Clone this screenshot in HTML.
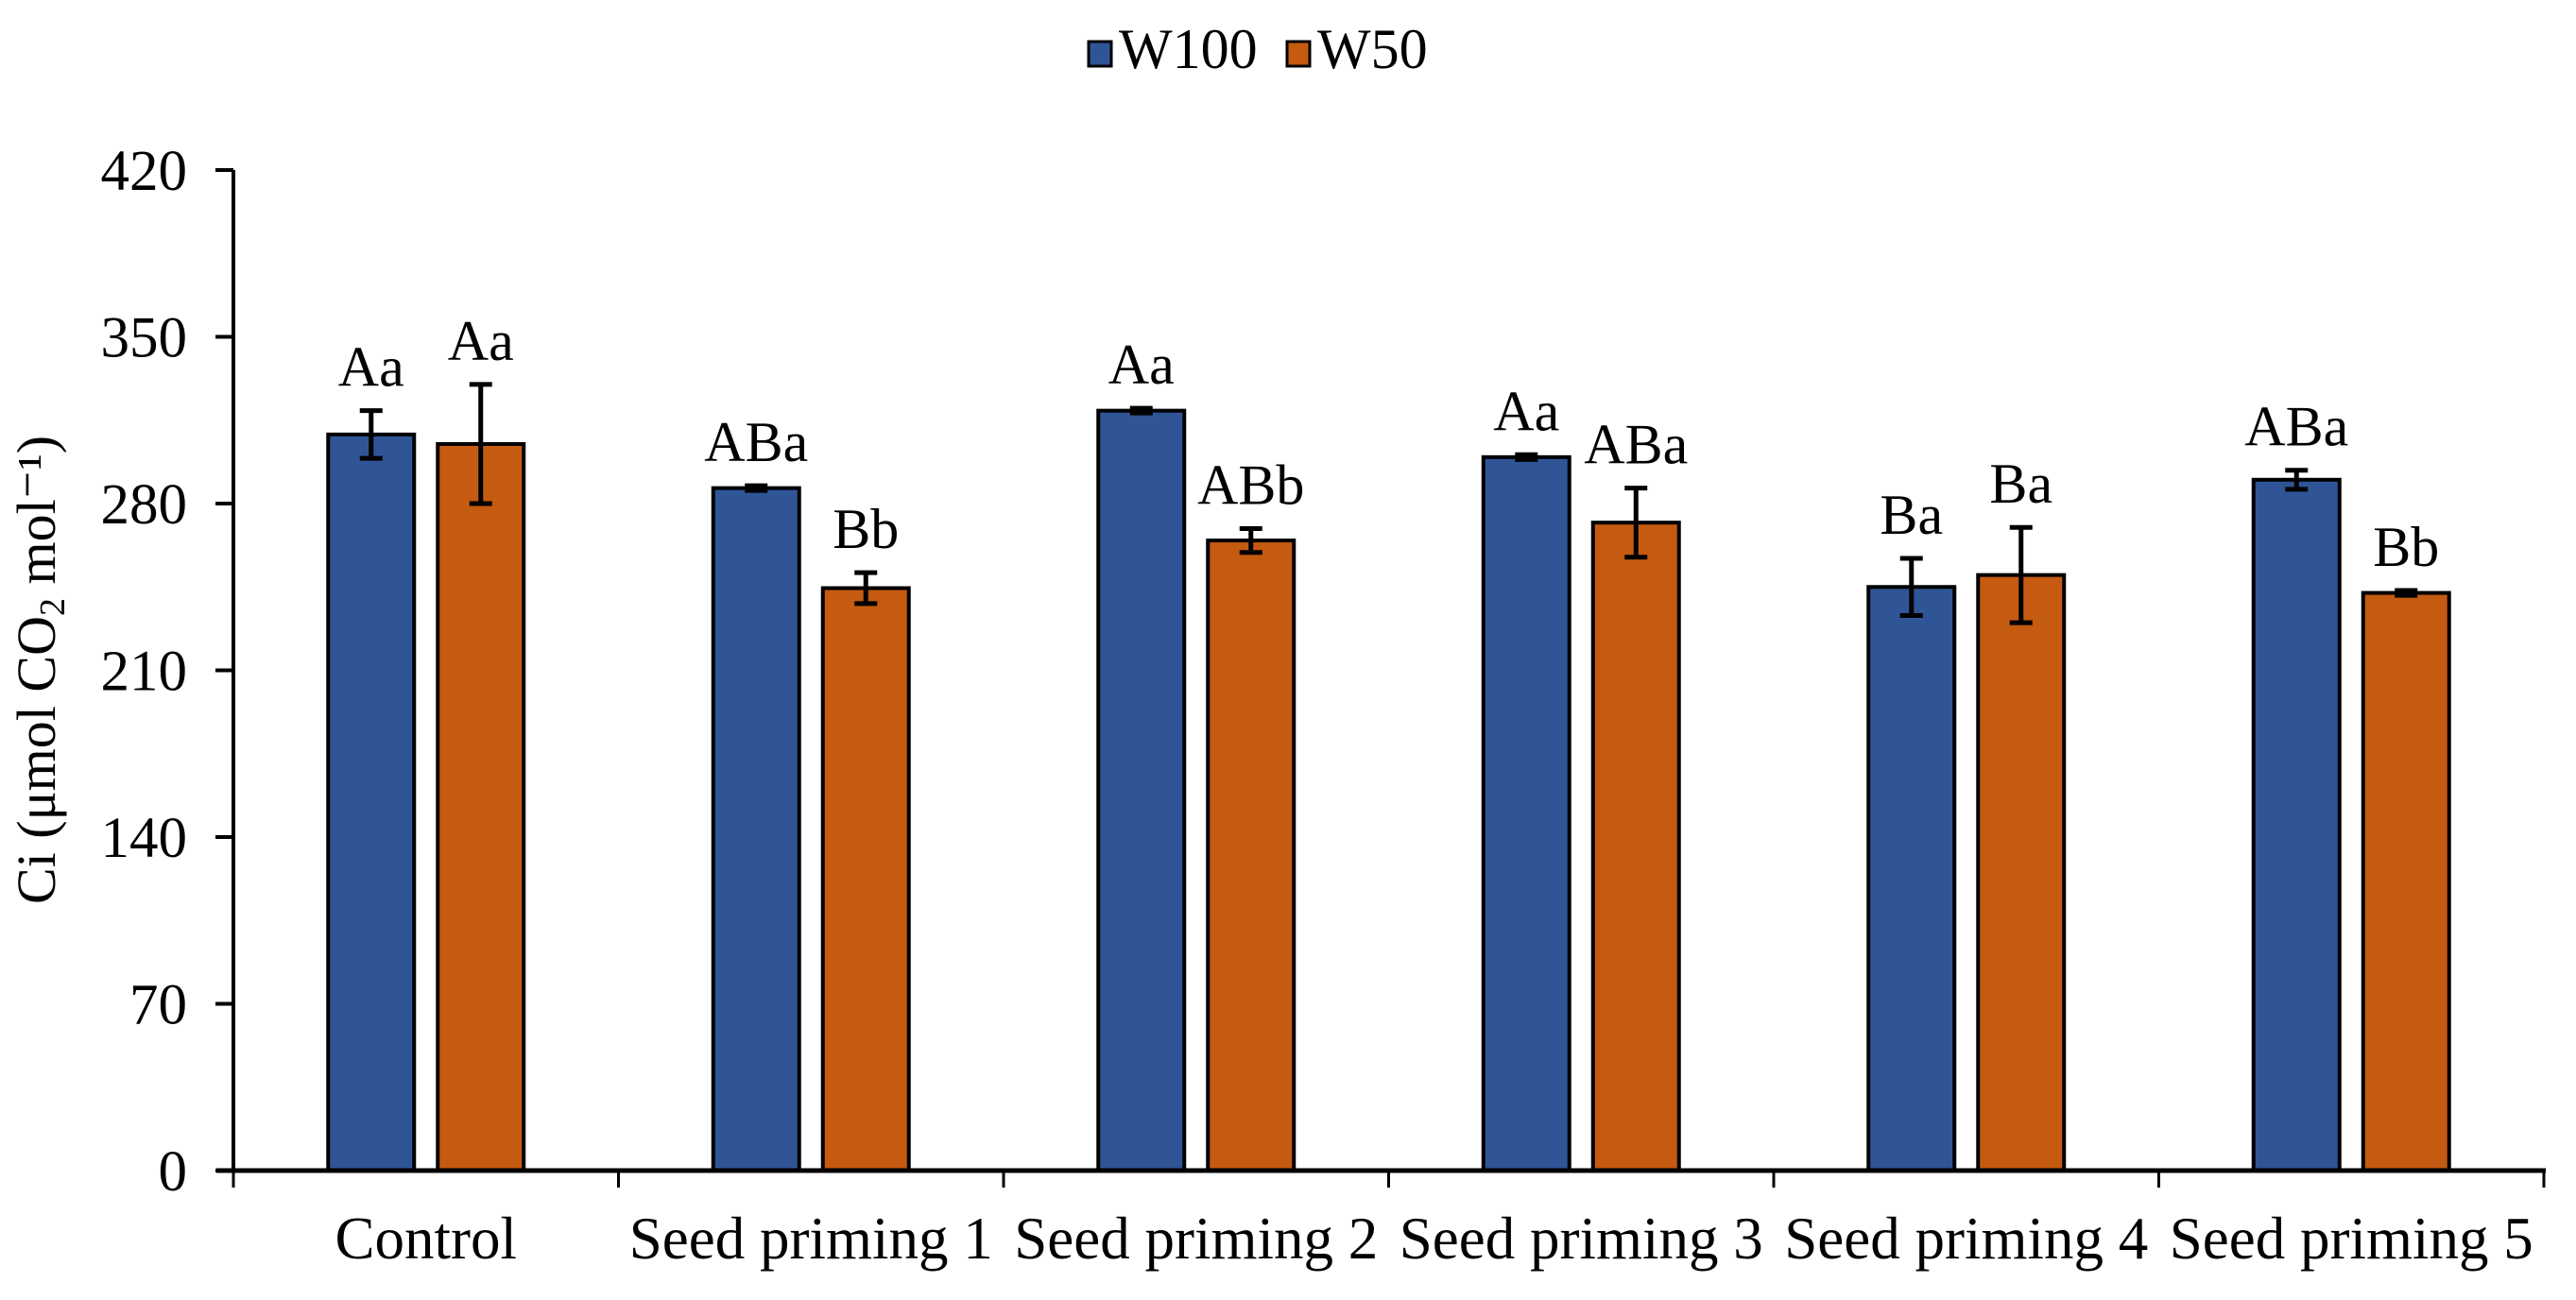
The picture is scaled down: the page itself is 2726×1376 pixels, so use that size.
<!DOCTYPE html>
<html><head><meta charset="utf-8"><style>
html,body{margin:0;padding:0;background:#fff}
svg text{font-family:"Liberation Serif",serif;fill:#000}
</style></head><body>
<svg id="chart" width="2726" height="1371" viewBox="0 0 2726 1371" xmlns="http://www.w3.org/2000/svg">
<g id="legend">
<rect x="1152" y="44" width="24" height="26" fill="#2F5597" stroke="#000" stroke-width="3"/>
<text x="1184" y="72" font-size="60">W100</text>
<rect x="1362" y="44" width="24" height="26" fill="#C55A11" stroke="#000" stroke-width="3"/>
<text x="1394" y="72" font-size="60">W50</text>
</g>
<text transform="translate(58,709) rotate(-90)" text-anchor="middle" font-size="58">Ci (μmol CO<tspan font-size="38" dy="10">2</tspan><tspan dy="-10"> mol⁻¹)</tspan></text>
<g id="plot"></g>
</svg>
<script>
const categories=["Control","Seed priming 1","Seed priming 2","Seed priming 3","Seed priming 4","Seed priming 5"];
const w100=[309,286.5,319,299.5,245,290];
const w100err=[10,1,1,1,12,4];
const w100lab=["Aa","ABa","Aa","Aa","Ba","ABa"];
const w50=[305,244.5,264.5,272,250,242.5];
const w50err=[25,6.5,5,14.5,20,1];
const w50lab=["Aa","Bb","ABb","ABa","Ba","Bb"];
const yTicks=[0,70,140,210,280,350,420];

const NS="http://www.w3.org/2000/svg";
const g=document.getElementById('plot');
const X0=247,X1=2692,Y0=1239,YT=180,YMAX=420;
const catW=(X1-X0)/categories.length;
const y=v=>Y0-(v/YMAX)*(Y0-YT);
const cx=i=>X0+catW*(i+0.5);
function mk(tag,attrs){const e=document.createElementNS(NS,tag);for(const k in attrs)e.setAttribute(k,attrs[k]);g.appendChild(e);return e;}

yTicks.forEach((t,i)=>{
 const l=mk('line',{x1:228,x2:X0,y1:y(t),y2:y(t),stroke:'#000','stroke-width':4});
 
 
 const tx=mk('text',{x:198,y:y(t)+21,'font-size':61,'text-anchor':'end'});
 tx.textContent=t;
 
 
});
const series=[[w100,w100err,w100lab,'#2F5597',-58,'w100'],[w50,w50err,w50lab,'#C55A11',58,'w50']];
categories.forEach((c,i)=>{
 series.forEach(([vals,errs,labs,col,off,nm])=>{
  const bx=cx(i)+off-45.5;
  const r=mk('rect',{x:bx,y:y(vals[i]),width:91,height:Y0-y(vals[i]),fill:col,stroke:'#000','stroke-width':4});
  
  
  const ex=cx(i)+off, et=y(vals[i]+errs[i]), eb=y(vals[i]-errs[i]);
  const el=mk('path',{d:`M${ex},${et}V${eb}M${ex-12},${et}H${ex+12}M${ex-12},${eb}H${ex+12}`,stroke:'#000','stroke-width':5,fill:'none'});
  
  
  const lt=mk('text',{x:ex,y:Math.min(et,y(vals[i]))-26,'font-size':60,'text-anchor':'middle'});
  lt.textContent=labs[i];
  
  
 });
 const ct=mk('text',{x:cx(i),y:1332,'font-size':63,'text-anchor':'middle'});
 ct.textContent=c;
 
 
});
for(let i=0;i<=categories.length;i++){
 const t=mk('line',{x1:X0+catW*i,x2:X0+catW*i,y1:Y0,y2:Y0+18,stroke:'#000','stroke-width':3});
 
 
}
const ya=mk('line',{x1:X0,x2:X0,y1:YT,y2:Y0+2,stroke:'#000','stroke-width':4});


const xa=mk('line',{x1:X0-18,x2:X1+2,y1:Y0,y2:Y0,stroke:'#000','stroke-width':5});


</script>
</body></html>
